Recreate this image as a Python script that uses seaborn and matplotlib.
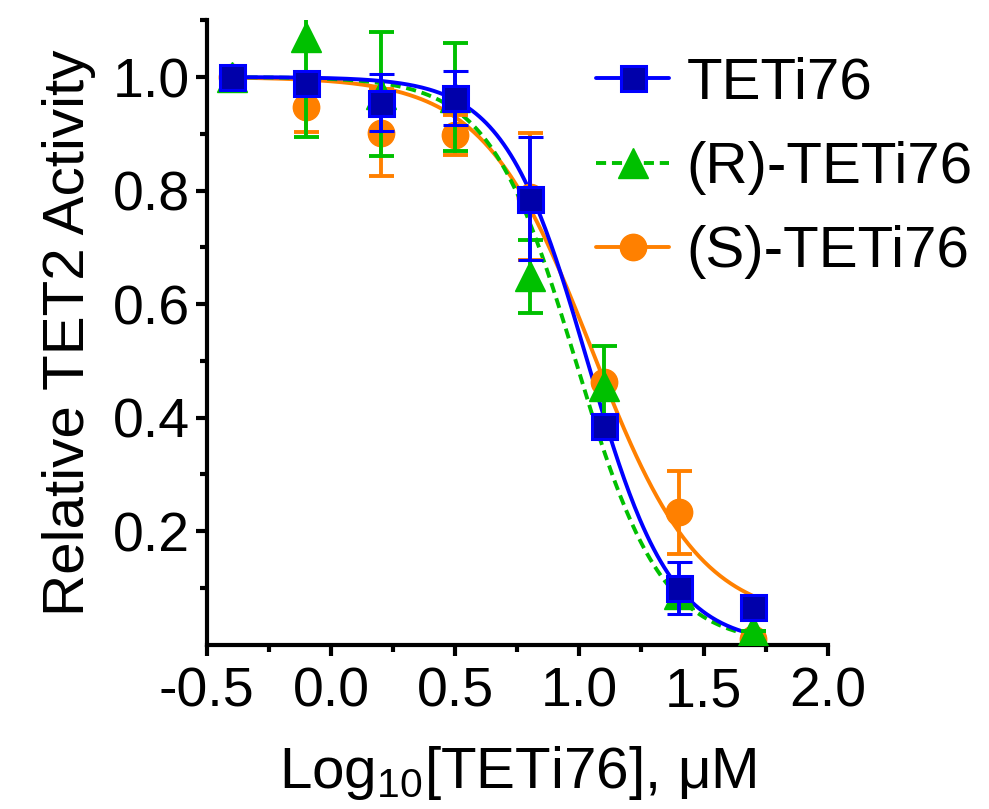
import numpy as np
import pandas as pd
import matplotlib
matplotlib.use("Agg")
import matplotlib.pyplot as plt
from matplotlib.lines import Line2D
from matplotlib.ticker import MultipleLocator, FixedLocator, FormatStrFormatter
import seaborn as sns

# dose points (log10 uM) and mean +/- error
log_conc = [-0.4, -0.1, 0.2, 0.5, 0.8, 1.1, 1.4, 1.7]

teti76_mean = [1.0, 0.99, 0.955, 0.963, 0.786, 0.385, 0.10, 0.066]
teti76_err = [0.0, 0.0, 0.05, 0.048, 0.109, 0.02, 0.046, 0.0]

r_mean = [1.0, 1.07, 0.97, 0.965, 0.649, 0.456, 0.09, 0.025]
r_err = [0.0, 0.175, 0.11, 0.095, 0.064, 0.07, 0.02, 0.0]

s_mean = [1.0, 0.948, 0.902, 0.898, 0.789, 0.462, 0.233, 0.011]
s_err = [0.0, 0.045, 0.077, 0.035, 0.112, 0.0, 0.073, 0.0]

labels = ["TETi76", "(R)-TETi76", "(S)-TETi76"]

# 4PL fit parameters (top, bottom, logIC50, hill) as drawn in the figure
fit_top = [1.0, 1.0, 1.0]
fit_bottom = [0.0, 0.0, 0.04]
fit_logic50 = [1.032, 0.985, 1.05]
fit_hill = [2.59, 2.5, 2.0]

blue, green, orange = "#0000FF", "#00C000", "#FF8000"

sns.set_style("ticks")
plt.rcParams["font.family"] = ["Liberation Sans", "DejaVu Sans"]
plt.rcParams["mathtext.fontset"] = "custom"
plt.rcParams["mathtext.rm"] = "Liberation Sans"
plt.rcParams["axes.unicode_minus"] = False
for key in ["text.color", "axes.labelcolor", "xtick.color", "ytick.color", "axes.edgecolor"]:
    plt.rcParams[key] = "black"

fig = plt.figure(figsize=(9.89, 8.09), dpi=100)
ax = fig.add_axes([0.209, 0.203, 0.628, 0.772])

# fitted curves
xs = np.linspace(min(log_conc), max(log_conc), 300)
curve_colors = [blue, green, orange]
curve_z = [2.3, 2.2, 2.1]
for i in [2, 1, 0]:
    ys = fit_bottom[i] + (fit_top[i] - fit_bottom[i]) / (1 + 10 ** ((xs - fit_logic50[i]) * fit_hill[i]))
    curve = pd.DataFrame({"x": xs, "y": ys})
    sns.lineplot(data=curve, x="x", y="y", ax=ax, color=curve_colors[i], lw=2.8,
                 zorder=curve_z[i])
    if i == 1:
        ax.lines[-1].set_dashes((2.6, 1.5))

# data points with error bars (orange under green under blue)
ax.errorbar(log_conc, s_mean, yerr=s_err, fmt="o", ms=19, mfc=orange, mec=orange,
            ecolor=orange, elinewidth=2.8, capsize=9, capthick=2.8, zorder=3)
ax.errorbar(log_conc, r_mean, yerr=r_err, fmt="^", ms=21, mfc=green, mec=green,
            ecolor=green, elinewidth=2.8, capsize=9, capthick=2.8, zorder=4)
ax.errorbar(log_conc, teti76_mean, yerr=teti76_err, fmt="s", ms=18, mfc="#0000AA", mec=blue,
            mew=2.2, ecolor=blue, elinewidth=2.8, capsize=9, capthick=2.8, zorder=5)

ax.set_xlim(-0.5, 2.0)
ax.set_ylim(0, 1.1)
ax.xaxis.set_major_locator(MultipleLocator(0.5))
ax.xaxis.set_minor_locator(MultipleLocator(0.25))
ax.yaxis.set_major_locator(FixedLocator([0.2, 0.4, 0.6, 0.8, 1.0]))
ax.yaxis.set_minor_locator(FixedLocator([0.1, 0.3, 0.5, 0.7, 0.9, 1.1]))
ax.xaxis.set_major_formatter(FormatStrFormatter("%.1f"))
ax.yaxis.set_major_formatter(FormatStrFormatter("%.1f"))

for side in ["top", "right"]:
    ax.spines[side].set_visible(False)
for side in ["left", "bottom"]:
    ax.spines[side].set_linewidth(3)
    ax.spines[side].set_color("black")
ax.tick_params(which="major", length=8, width=3, color="black", labelsize=40)
ax.tick_params(which="minor", length=5, width=3, color="black")
ax.tick_params(axis="x", pad=8)
ax.tick_params(axis="y", pad=4)

ax.set_xlabel(r"Log$_{\mathregular{10}}$[TETi76], μM", fontsize=42, labelpad=18)
ax.set_ylabel("Relative TET2 Activity", fontsize=42, labelpad=12)

handles = [
    Line2D([], [], color=blue, lw=2.8, marker="s", ms=18, mfc="#0000AA", mec=blue, mew=2.2),
    Line2D([], [], color=green, lw=2.8, ls=(0, (2.6, 1.5)), marker="^", ms=21, mfc=green, mec=green),
    Line2D([], [], color=orange, lw=2.8, marker="o", ms=19, mfc=orange, mec=orange),
]
ax.legend(handles, labels, loc="upper left", bbox_to_anchor=(0.603, 0.93),
          bbox_transform=fig.transFigure, frameon=False, fontsize=42,
          handlelength=1.25, handletextpad=0.3, labelspacing=0.52,
          borderpad=0, borderaxespad=0)

fig.savefig("out.png", dpi=100)
